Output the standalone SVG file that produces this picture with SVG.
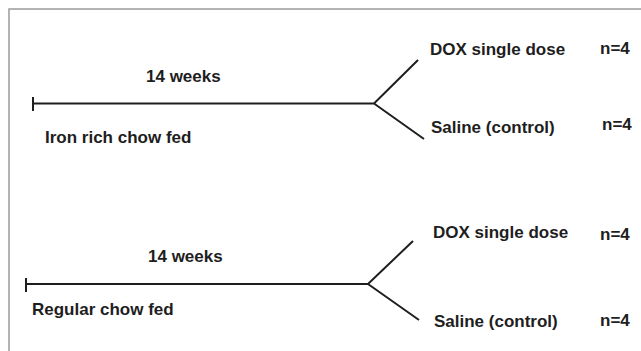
<svg xmlns="http://www.w3.org/2000/svg" width="641" height="351" viewBox="0 0 641 351">
<style>
.frame{fill:none;stroke:#9a9a9a;stroke-width:1.5}
.ln{fill:none;stroke:#1e1e1e;stroke-width:2;stroke-linecap:butt;stroke-linejoin:miter}
.t{font-family:"Liberation Sans",Arial,sans-serif;font-weight:bold;font-size:17px;fill:#1e1e1e}
</style>
<rect width="641" height="351" fill="#ffffff"/>
<path class="frame" d="M9,351 V9 H641"/>
<g id="connectors">
<path class="ln" d="M33,97 V111 M33,103.5 H374 L418,60 M374,103.5 L424,139"/>
<path class="ln" d="M26,278 V292 M26,284 H368 L413,241 M368,284 L419,320"/>
</g>
<g id="group-iron">
<text class="t" x="146" y="82">14 weeks</text>
<text class="t" x="45" y="143">Iron rich chow fed</text>
</g>
<g id="iron-dox">
<text class="t" x="430" y="55">DOX single dose</text>
<text class="t" x="600" y="54">n=4</text>
</g>
<g id="iron-saline">
<text class="t" x="431" y="133">Saline (control)</text>
<text class="t" x="602" y="130">n=4</text>
</g>
<g id="group-regular">
<text class="t" x="148" y="262">14 weeks</text>
<text class="t" x="32" y="315">Regular chow fed</text>
</g>
<g id="regular-dox">
<text class="t" x="433" y="238">DOX single dose</text>
<text class="t" x="600" y="240">n=4</text>
</g>
<g id="regular-saline">
<text class="t" x="434" y="327">Saline (control)</text>
<text class="t" x="600" y="326">n=4</text>
</g>
</svg>
